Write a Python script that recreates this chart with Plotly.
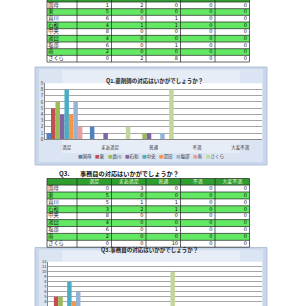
import plotly.graph_objects as go

FONT = "Noto Sans CJK JP"

sites = ["国母", "東", "貢川", "石和", "中央", "湯田", "塩部", "南", "さくら"]
ratings = ["満足", "まあ満足", "普通", "不満", "大変不満"]
series_colors = ["#4F81BD", "#C0504D", "#9BBB59", "#8064A2", "#4BACC6",
                 "#F79646", "#95B3D7", "#E6A0A0", "#C3D69B"]

# Q1 (pharmacist) counts per rating column, one value per site
q1_manzoku = [1, 5, 6, 4, 8, 4, 6, 2, 0]
q1_maa = [2, 0, 0, 1, 0, 0, 0, 0, 2]
q1_futsu = [0, 0, 1, 1, 0, 0, 1, 0, 8]
q1_fuman = [0, 0, 0, 0, 0, 0, 0, 0, 0]
q1_taihen = [0, 0, 0, 0, 0, 0, 0, 0, 0]

# Q3 (clerk) counts
q3_manzoku = [0, 5, 5, 3, 8, 4, 6, 2, 0]
q3_maa = [3, 0, 1, 2, 0, 0, 0, 0, 0]
q3_futsu = [0, 0, 1, 1, 0, 0, 1, 0, 10]
q3_fuman = [0, 0, 0, 0, 0, 0, 0, 0, 0]
q3_taihen = [0, 0, 0, 0, 0, 0, 0, 0, 0]

q1_title = "Q1.薬剤師の対応はいかがでしょうか？"
q3_title = "Q3.事務員の対応はいかがでしょうか？"
q3_heading = "事務員の対応はいかがでしょうか？"

W, H = 300, 306
def px(x):
    return x / W
def py(y):
    return 1 - y / H

q1_cols = [q1_manzoku, q1_maa, q1_futsu, q1_fuman, q1_taihen]
q3_cols = [q3_manzoku, q3_maa, q3_futsu, q3_fuman, q3_taihen]

fig = go.Figure()
shapes = []
annotations = []

# ---------- chart frames (paper coords) ----------
for (y0, y1) in [(67, 165), (247.5, 312)]:
    shapes.append(dict(type="rect", xref="paper", yref="paper",
                       x0=px(35), x1=px(267), y0=py(y1), y1=py(y0),
                       fillcolor="#C9D7EC", line=dict(color="#A8B8D0", width=0.8),
                       layer="below"))
    shapes.append(dict(type="rect", xref="paper", yref="paper",
                       x0=px(39), x1=px(263), y0=py(y1 - 3), y1=py(y0 + 2),
                       fillcolor="#DAE4F2", line=dict(width=0), layer="below"))
    shapes.append(dict(type="rect", xref="paper", yref="paper",
                       x0=px(62), x1=px(240), y0=py(y1 - 12), y1=py(y0 + 3),
                       fillcolor="#E6EDF7", line=dict(width=0), layer="below"))
# white plot areas
shapes.append(dict(type="rect", xref="paper", yref="paper",
                   x0=px(45), x1=px(262), y0=py(139.3), y1=py(83.3),
                   fillcolor="white", line=dict(width=0), layer="below"))
shapes.append(dict(type="rect", xref="paper", yref="paper",
                   x0=px(48), x1=px(262), y0=py(312), y1=py(261.7),
                   fillcolor="white", line=dict(width=0), layer="below"))

# ---------- tables on a page-pixel axis (x3/y3) ----------
col_edges = [47, 77, 111.5, 146, 180.5, 215, 249.5]
GREEN = "#62E862"
HEAD = "#2E9E2E"
LINE = "#222222"

def draw_table(header_top, header_h, row_h, cols, header_labels):
    n = len(sites)
    top = header_top + header_h
    bottom = top + n * row_h
    # header
    shapes.append(dict(type="rect", xref="x3", yref="y3",
                       x0=col_edges[0], x1=col_edges[-1], y0=header_top, y1=top,
                       fillcolor=HEAD, line=dict(width=0), layer="below"))
    # striped rows
    for i in range(n):
        if i % 2 == 1:
            shapes.append(dict(type="rect", xref="x3", yref="y3",
                               x0=col_edges[0], x1=col_edges[-1],
                               y0=top + i * row_h, y1=top + (i + 1) * row_h,
                               fillcolor=GREEN, line=dict(width=0), layer="below"))
    # grid lines
    for i in range(n + 1):
        yy = top + i * row_h
        shapes.append(dict(type="line", xref="x3", yref="y3",
                           x0=col_edges[0], x1=col_edges[-1], y0=yy, y1=yy,
                           line=dict(color=LINE, width=0.7)))
    shapes.append(dict(type="line", xref="x3", yref="y3",
                       x0=col_edges[0], x1=col_edges[-1], y0=header_top, y1=header_top,
                       line=dict(color=LINE, width=0.7)))
    for xe in col_edges:
        shapes.append(dict(type="line", xref="x3", yref="y3",
                           x0=xe, x1=xe, y0=header_top, y1=bottom,
                           line=dict(color=LINE, width=0.7)))
    ys = [top + (i + 0.5) * row_h for i in range(n)]
    # labels
    fig.add_trace(go.Scatter(x=[col_edges[0] + 1.2] * n, y=ys, text=sites,
                             mode="text", textposition="middle right",
                             textfont=dict(family=FONT, size=5.2, color="#111111"),
                             xaxis="x3", yaxis="y3", showlegend=False, hoverinfo="skip"))
    for j, col in enumerate(cols):
        fig.add_trace(go.Scatter(x=[col_edges[j + 2] - 2.5] * n, y=ys,
                                 text=[str(v) for v in col],
                                 mode="text", textposition="middle left",
                                 textfont=dict(family="DejaVu Sans", size=5, color="#111111"),
                                 xaxis="x3", yaxis="y3", showlegend=False, hoverinfo="skip"))
    if header_labels:
        fig.add_trace(go.Scatter(
            x=[(col_edges[j + 1] + col_edges[j + 2]) / 2 for j in range(len(header_labels))],
            y=[header_top + header_h / 2] * len(header_labels), text=header_labels,
            mode="text", textposition="middle center",
            textfont=dict(family=FONT, size=5, color="#F0F8D8"),
            xaxis="x3", yaxis="y3", showlegend=False, hoverinfo="skip"))

draw_table(-5, 7, 6.67, q1_cols, None)
draw_table(178.5, 6.6, 6.9, q3_cols, ratings)

# ---------- bar charts ----------
for i, s in enumerate(sites):
    fig.add_trace(go.Bar(x=ratings, y=[c[i] for c in q1_cols], name=s,
                         marker=dict(color=series_colors[i], line=dict(width=0)),
                         xaxis="x", yaxis="y", showlegend=False))
for i, s in enumerate(sites):
    fig.add_trace(go.Bar(x=ratings, y=[c[i] for c in q3_cols], name=s,
                         marker=dict(color=series_colors[i], line=dict(width=0)),
                         xaxis="x2", yaxis="y2", showlegend=False))

annotations.append(dict(text="<b>" + q1_title + "</b>", xref="paper", yref="paper",
                        x=px(154), y=py(74.5), showarrow=False,
                        font=dict(family=FONT, size=5.5, color="#222222")))
annotations.append(dict(text="<b>" + q3_title + "</b>", xref="paper", yref="paper",
                        x=px(149), y=py(255.5), showarrow=False,
                        font=dict(family=FONT, size=5.5, color="#222222")))
annotations.append(dict(text="<b>Q3.</b>", xref="paper", yref="paper",
                        x=px(57), y=py(173), xanchor="left", showarrow=False,
                        font=dict(family=FONT, size=6.2, color="#111111")))
annotations.append(dict(text="<b>" + q3_heading + "</b>", xref="paper", yref="paper",
                        x=px(78), y=py(173), xanchor="left", showarrow=False,
                        font=dict(family=FONT, size=6.2, color="#111111")))

# manual legend for chart 1
lx = 76
for i, s in enumerate(sites):
    annotations.append(dict(
        text='<span style="color:%s">■</span>%s' % (series_colors[i], s),
        xref="paper", yref="paper", x=px(lx), y=py(156), xanchor="left",
        showarrow=False, font=dict(family=FONT, size=4.5, color="#333333")))
    lx += 8.5 + 4.3 * len(s)

axis_font = dict(family=FONT, size=4.5, color="#333333")
fig.update_layout(
    width=W, height=H, margin=dict(l=0, r=0, t=0, b=0, pad=0),
    paper_bgcolor="white", plot_bgcolor="rgba(0,0,0,0)",
    barmode="group", bargap=0.07, bargroupgap=0,
    shapes=shapes, annotations=annotations,
    xaxis=dict(domain=[px(45), px(262)], anchor="y", showgrid=False,
               showline=True, linecolor="#888888", linewidth=0.6,
               tickfont=axis_font, ticks="", ticklabelstandoff=3, automargin=False),
    yaxis=dict(domain=[py(139.3), py(83.3)], anchor="x", range=[0, 9], dtick=1,
               autorange=False,
               showgrid=True, gridcolor="#A6A6A6", gridwidth=0.6,
               showline=True, linecolor="#888888", linewidth=0.6,
               tickfont=axis_font, ticks="", zeroline=False, automargin=False),
    xaxis2=dict(domain=[px(48), px(262)], anchor="y2", showgrid=False,
                showline=False, showticklabels=False,
                tickfont=axis_font, ticks="", automargin=False),
    yaxis2=dict(domain=[0, py(261.7)], anchor="x2", range=[(321.7 - 306) / 5, 12],
                autorange=False, dtick=1, tick0=0, showgrid=True, gridcolor="#A6A6A6",
                gridwidth=0.6, showline=True, linecolor="#888888", linewidth=0.6,
                tickfont=dict(family=FONT, size=4, color="#333333"), ticks="",
                zeroline=False, automargin=False),
    xaxis3=dict(domain=[0, 1], anchor="y3", range=[0, W], autorange=False,
                visible=False, fixedrange=True),
    yaxis3=dict(domain=[0, 1], anchor="x3", range=[H, 0], autorange=False,
                visible=False, fixedrange=True),
)

fig.write_html("out.html")
